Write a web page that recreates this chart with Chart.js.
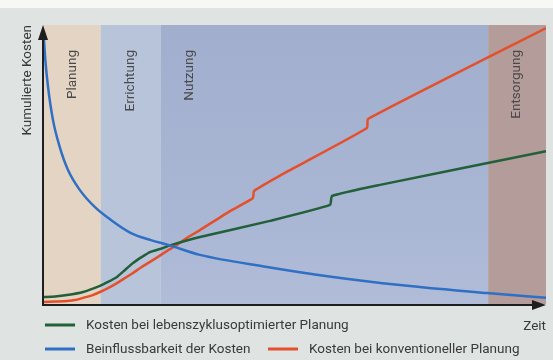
<!DOCTYPE html>
<html>
<head>
<meta charset="utf-8">
<script src="https://cdn.jsdelivr.net/npm/chart.js@4.4.1/dist/chart.umd.min.js"></script>
<style>
  html, body { margin: 0; padding: 0; background: #dfe3e2; }
  #wrap { position: relative; width: 553px; height: 360px; }
  canvas { display: block; }
</style>
</head>
<body>
<div id="wrap"><canvas id="c" width="553" height="360"></canvas></div>
<script>
// Time runs 0..100 across the life cycle, costs 0..100 (relative units).
const phaseNames = ['Planung', 'Errichtung', 'Nutzung', 'Entsorgung'];
const phaseBounds = [0, 11.5, 23.4, 88.5, 100];
const phaseLabelAt = [5.8, 17.5, 29.2, 94.2];
const phaseColors = ['#e3d4c4', '#b8c4da', '#a4b1cf', '#b39c99'];

const seriesLabels = [
  'Kosten bei lebenszyklusoptimierter Planung',
  'Beinflussbarkeit der Kosten',
  'Kosten bei konventioneller Planung'
];
const seriesColors = ['#22603a', '#2f6fc4', '#e5502c'];

// Beinflussbarkeit der Kosten
const influenceX = [0.1, 0.2, 0.46, 1.0, 1.99, 3.32, 4.97, 7.3, 10.28, 13.52, 17.5, 21.47, 24.85, 31.21, 44.53, 57.65, 70.97, 88.27, 100];
const influenceY = [97.1, 94.6, 87.5, 77.8, 65.9, 56.3, 48.0, 40.9, 34.8, 30.1, 25.4, 22.9, 21.2, 17.6, 13.3, 9.7, 6.8, 3.9, 2.2];

// Kosten bei lebenszyklusoptimierter Planung
const optimizedX = [0, 2.39, 4.77, 7.95, 11.33, 12.92, 14.71, 16.30, 17.89, 19.68, 21.27, 23.26, 25.25, 28.23, 31.21, 45.13, 57.06, 57.46, 67.0, 100];
const optimizedY = [2.5, 2.7, 3.2, 4.3, 6.5, 7.9, 9.7, 12.2, 14.7, 16.9, 18.6, 19.7, 21.0, 22.6, 24.0, 29.8, 35.5, 38.7, 42.7, 54.8];

// Kosten bei konventioneller Planung
const conventionalX = [0, 2.39, 4.77, 6.36, 7.95, 9.74, 11.33, 12.92, 14.71, 16.30, 17.89, 19.48, 21.27, 22.86, 24.65, 26.64, 28.63, 31.21, 37.18, 41.75, 41.95, 49.11, 64.41, 64.61, 100];
const conventionalY = [0.7, 0.9, 1.1, 1.4, 2.2, 3.1, 4.3, 5.7, 7.5, 9.3, 11.1, 13.1, 15.1, 16.9, 19.0, 21.2, 23.7, 26.5, 33.3, 38.0, 40.5, 48.0, 63.1, 66.3, 98.9];

const axisTitleY = 'Kumulierte Kosten';
const axisTitleX = 'Zeit';

const toPoints = (xs, ys) => xs.map((x, i) => ({ x, y: ys[i] }));

const FONT = '13.5px Roboto';
const TEXT = '#3a3a3a';

const backdrop = {
  id: 'backdrop',
  beforeDraw(chart) {
    const { ctx, width } = chart;
    ctx.save();
    ctx.fillStyle = '#dfe3e2';
    ctx.fillRect(0, 0, width, chart.height);
    ctx.fillStyle = '#f7f7f5';
    ctx.fillRect(0, 0, width, 8);
    ctx.restore();
  }
};

const phases = {
  id: 'phases',
  beforeDatasetsDraw(chart) {
    const { ctx, chartArea: a, scales: { x } } = chart;
    ctx.save();
    for (let i = 0; i < phaseNames.length; i++) {
      const x0 = x.getPixelForValue(phaseBounds[i]);
      const x1 = x.getPixelForValue(phaseBounds[i + 1]);
      let fill = phaseColors[i];
      if (i === 2) {
        const g = ctx.createLinearGradient(0, a.top, 0, a.bottom);
        g.addColorStop(0, '#a1aecd');
        g.addColorStop(0.6, '#a8b5d3');
        g.addColorStop(1, '#b0bcd8');
        fill = g;
      }
      ctx.fillStyle = fill;
      ctx.fillRect(x0, a.top, x1 - x0, a.bottom - a.top);
    }
    // phase names, written upwards near the top of each band
    ctx.font = FONT;
    ctx.fillStyle = '#4a4a4a';
    ctx.textAlign = 'right';
    ctx.textBaseline = 'middle';
    for (let i = 0; i < phaseNames.length; i++) {
      ctx.save();
      ctx.translate(x.getPixelForValue(phaseLabelAt[i]), a.top + 25);
      ctx.rotate(-Math.PI / 2);
      ctx.fillText(phaseNames[i], 0, 0);
      ctx.restore();
    }
    ctx.restore();
  },
  afterDatasetsDraw(chart) {
    const { ctx, chartArea: a } = chart;
    ctx.save();
    // axes with arrow heads
    ctx.strokeStyle = '#1e1e1e';
    ctx.fillStyle = '#1e1e1e';
    ctx.lineWidth = 2;
    ctx.beginPath();
    ctx.moveTo(a.left, a.bottom + 1);
    ctx.lineTo(a.left, a.top + 10);
    ctx.moveTo(a.left - 1, a.bottom + 1);
    ctx.lineTo(a.right - 10, a.bottom + 1);
    ctx.stroke();
    ctx.beginPath();
    ctx.moveTo(a.left, a.top);
    ctx.lineTo(a.left - 5, a.top + 15);
    ctx.lineTo(a.left + 5, a.top + 15);
    ctx.closePath();
    ctx.fill();
    ctx.beginPath();
    ctx.moveTo(a.right, a.bottom + 1);
    ctx.lineTo(a.right - 14, a.bottom - 4);
    ctx.lineTo(a.right - 14, a.bottom + 6);
    ctx.closePath();
    ctx.fill();

    // axis titles
    ctx.font = FONT;
    ctx.fillStyle = TEXT;
    ctx.textBaseline = 'middle';
    ctx.save();
    ctx.translate(a.left - 15, a.top);
    ctx.rotate(-Math.PI / 2);
    ctx.textAlign = 'right';
    ctx.fillText(axisTitleY, 0, 0);
    ctx.restore();
    ctx.textAlign = 'right';
    ctx.fillText(axisTitleX, a.right, a.bottom + 23);

    // legend
    const rows = [
      { i: 0, lx: 45, y: 325 },
      { i: 1, lx: 45, y: 349 },
      { i: 2, lx: 268, y: 349 }
    ];
    ctx.textAlign = 'left';
    ctx.lineWidth = 3;
    rows.forEach(r => {
      ctx.strokeStyle = seriesColors[r.i];
      ctx.beginPath();
      ctx.moveTo(r.lx, r.y);
      ctx.lineTo(r.lx + 30, r.y);
      ctx.stroke();
      ctx.fillStyle = TEXT;
      ctx.fillText(seriesLabels[r.i], r.lx + 41, r.y + 1);
    });
    ctx.restore();
  }
};

const lineStyle = color => ({
  showLine: true,
  borderColor: color,
  backgroundColor: color,
  borderWidth: 2.5,
  pointRadius: 0,
  fill: false
});

new Chart(document.getElementById('c'), {
  type: 'scatter',
  data: {
    datasets: [
      { label: seriesLabels[1], data: toPoints(influenceX, influenceY), ...lineStyle(seriesColors[1]), cubicInterpolationMode: 'monotone' },
      { label: seriesLabels[0], data: toPoints(optimizedX, optimizedY), ...lineStyle(seriesColors[0]), tension: 0.15 },
      { label: seriesLabels[2], data: toPoints(conventionalX, conventionalY), ...lineStyle(seriesColors[2]), tension: 0.15 }
    ]
  },
  options: {
    responsive: false,
    animation: false,
    layout: { padding: { left: 43, top: 25, right: 7, bottom: 56 } },
    scales: {
      x: { type: 'linear', min: 0, max: 100, display: false },
      y: { type: 'linear', min: 0, max: 100, display: false }
    },
    plugins: { legend: { display: false }, tooltip: { enabled: false } }
  },
  plugins: [backdrop, phases]
});
</script>
</body>
</html>
